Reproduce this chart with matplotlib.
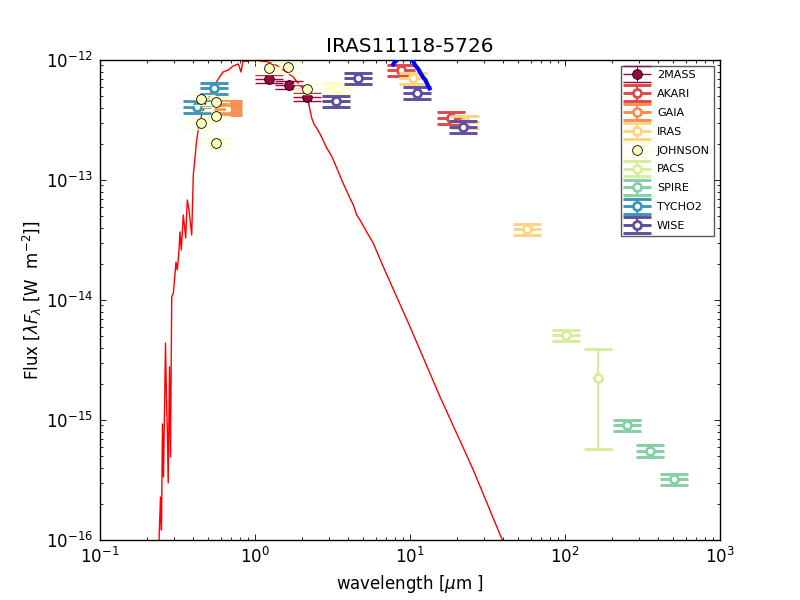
"""SED of IRAS11118-5726: model spectrum plus photometry per system."""

import numpy as np
import matplotlib
matplotlib.use("Agg")
import matplotlib.pyplot as plt
from matplotlib.container import ErrorbarContainer
from matplotlib.legend_handler import HandlerErrorbar, HandlerTuple

# --- model spectrum (wavelength in micron, lambda*F_lambda in W m-2) ---
model_wave = [0.238, 0.2456, 0.2492, 0.2530, 0.2569, 0.2646, 0.2686, 0.2718,
              0.2754, 0.2808, 0.2850, 0.2902, 0.2971, 0.3024, 0.3092, 0.3152,
              0.3218, 0.3281, 0.3345, 0.3447, 0.3572, 0.3658, 0.3752, 0.3905,
              0.3999, 0.4205, 0.4351, 0.4530, 0.4758, 0.5124, 0.5438, 0.5798,
              0.6217, 0.6726, 0.7213, 0.7804, 0.8122, 0.8367, 0.8840, 0.9284,
              0.9707, 1.015, 1.077, 1.160, 1.250, 1.346, 1.450, 1.561, 1.640,
              1.766, 1.866, 2.049, 2.101, 2.208, 2.322, 2.402, 2.501, 2.627,
              2.901, 3.125, 3.366, 3.696, 4.102, 4.308, 4.530, 4.757, 5.256,
              5.797, 6.726, 10.0, 15.62, 25.61, 39.39, 47.57]
model_flux = [6.8e-17, 2.28e-16, 1.21e-16, 9.26e-16, 3.35e-16, 4.38e-15,
              1.47e-15, 8.26e-16, 2.99e-16, 2.77e-15, 4.92e-16, 1.06e-14,
              1.14e-14, 1.47e-14, 2.07e-14, 1.78e-14, 2.37e-14, 3.69e-14,
              2.61e-14, 5.11e-14, 3.29e-14, 6.81e-14, 5.62e-14, 3.48e-14,
              1.10e-13, 2.15e-13, 2.87e-13, 3.48e-13, 4.22e-13, 5.11e-13,
              6.07e-13, 6.95e-13, 7.94e-13, 8.25e-13, 8.91e-13, 9.26e-13,
              7.94e-13, 9.81e-13, 9.72e-13, 9.90e-13, 9.90e-13, 1.0e-12,
              9.81e-13, 9.72e-13, 9.53e-13, 9.17e-13, 8.66e-13, 8.10e-13,
              7.72e-13, 7.22e-13, 6.56e-13, 5.74e-13, 5.31e-13, 4.47e-13,
              3.29e-13, 2.93e-13, 2.70e-13, 2.42e-13, 1.85e-13, 1.58e-13,
              1.26e-13, 9.44e-14, 7.04e-14, 6.19e-14, 5.11e-14, 4.64e-14,
              3.69e-14, 2.97e-14, 1.89e-14, 5.99e-15, 1.56e-15, 3.83e-16,
              1.0e-16, 5.6e-17]

# --- mid-IR spectrum (blue) ---
spec_wave = [7.80, 8.00, 8.41, 9.14, 10.0, 10.46, 10.77, 11.31, 11.78,
             12.18, 12.63, 13.01, 13.36]
spec_flux = [9.21e-13, 9.68e-13, 1.02e-12, 1.06e-12, 1.02e-12, 9.81e-13,
             9.08e-13, 8.41e-13, 7.65e-13, 7.15e-13, 6.74e-13, 6.19e-13,
             5.79e-13]

# --- photometry: wavelength, flux, error, used in fit ---
tmass_wave = [1.235, 1.662, 2.159]
tmass_flux = [6.95e-13, 6.19e-13, 4.95e-13]
tmass_err = [0.56e-13, 0.50e-13, 0.40e-13]
tmass_fit = [True, True, True]

akari_wave = [8.71, 18.3]
akari_flux = [8.25e-13, 3.30e-13]
akari_err = [0.9e-13, 0.36e-13]
akari_fit = [False, False]

gaia_wave = [0.673, 0.673]
gaia_flux = [4.14e-13, 3.91e-13]
gaia_err = [0.45e-13, 0.43e-13]
gaia_fit = [False, False]

iras_wave = [10.5, 22.6, 56.9]
iras_flux = [7.04e-13, 3.06e-13, 3.88e-14]
iras_err = [0.77e-13, 0.34e-13, 0.43e-14]
iras_fit = [False, False, False]

john_wave = [0.449, 0.449, 0.558, 0.558, 0.558, 1.23, 1.64, 2.16, 3.38]
john_flux = [4.70e-13, 2.97e-13, 4.47e-13, 3.41e-13, 2.02e-13, 8.53e-13,
             8.69e-13, 5.74e-13, 5.80e-13]
john_err = [0.45e-13, 0.30e-13, 0.45e-13, 0.34e-13, 0.20e-13, 0.85e-13,
            0.87e-13, 0.57e-13, 0.60e-13]
john_fit = [True, True, True, True, True, True, True, True, False]

pacs_wave = [101.0, 164.0]
pacs_flux = [5.11e-15, 2.23e-15]
pacs_err = [0.56e-15, 1.66e-15]
pacs_fit = [False, False]

spire_wave = [252.0, 353.0, 505.0]
spire_flux = [9.09e-16, 5.55e-16, 3.21e-16]
spire_err = [1.0e-16, 0.61e-16, 0.35e-16]
spire_fit = [False, False, False]

tycho_wave = [0.424, 0.544]
tycho_flux = [4.08e-13, 5.81e-13]
tycho_err = [0.45e-13, 0.64e-13]
tycho_fit = [False, False]

wise_wave = [3.35, 4.60, 11.15, 22.1]
wise_flux = [4.55e-13, 7.04e-13, 5.34e-13, 2.78e-13]
wise_err = [0.50e-13, 0.77e-13, 0.59e-13, 0.31e-13]
wise_fit = [False, False, False, False]

groups = [
    ("2MASS", tmass_wave, tmass_flux, tmass_err, tmass_fit),
    ("AKARI", akari_wave, akari_flux, akari_err, akari_fit),
    ("GAIA", gaia_wave, gaia_flux, gaia_err, gaia_fit),
    ("IRAS", iras_wave, iras_flux, iras_err, iras_fit),
    ("JOHNSON", john_wave, john_flux, john_err, john_fit),
    ("PACS", pacs_wave, pacs_flux, pacs_err, pacs_fit),
    ("SPIRE", spire_wave, spire_flux, spire_err, spire_fit),
    ("TYCHO2", tycho_wave, tycho_flux, tycho_err, tycho_fit),
    ("WISE", wise_wave, wise_flux, wise_err, wise_fit),
]

x_ticks = [0.1, 1, 10, 100, 1000]
y_ticks = [1e-16, 1e-15, 1e-14, 1e-13, 1e-12]

plt.rcParams.update({
    "font.family": "DejaVu Sans",
    "font.size": 12,
    "mathtext.fontset": "dejavusans",
    "axes.linewidth": 1.0,
    "xtick.direction": "in",
    "ytick.direction": "in",
    "xtick.top": True,
    "ytick.right": True,
    "xtick.major.size": 4,
    "ytick.major.size": 4,
    "xtick.minor.size": 2,
    "ytick.minor.size": 2,
    "xtick.major.width": 0.6,
    "ytick.major.width": 0.6,
    "xtick.minor.width": 0.6,
    "ytick.minor.width": 0.6,
})


def plot_group(ax, wave, flux, err, fit, color):
    wave = np.asarray(wave, dtype=float)
    flux = np.asarray(flux, dtype=float)
    err = np.asarray(err, dtype=float)
    fit = np.asarray(fit, dtype=bool)
    handle = None
    for used in (False, True):
        m = fit == used
        if not m.any():
            continue
        if used:
            lw, z = 1.0, 4
            pt_kw = dict(ms=7, mfc=color, mec="k", mew=0.6)
        else:
            lw, z = 2.1, 3
            pt_kw = dict(ms=5.8, mfc="w", mec=color, mew=2.0)
        eb = ax.errorbar(wave[m], flux[m], yerr=err[m], fmt="none",
                         ecolor=color, elinewidth=lw * 0.7, capsize=10,
                         capthick=lw, zorder=z)
        bar = m & (err < 0.5 * flux)
        bl, = ax.plot(wave[bar], flux[bar], ls="none", marker="_", ms=20,
                      mew=lw, color=color, zorder=z)
        pt, = ax.plot(wave[m], flux[m], ls="none", marker="o", zorder=z,
                      **pt_kw)
        # legend shows style of the first point in the group
        if handle is None or used == fit[0]:
            handle = (eb, bl, pt)
    return handle


fig = plt.figure(figsize=(8, 6), dpi=100, facecolor="w")
ax = fig.add_axes([0.125, 0.1, 0.775, 0.8])

ax.plot(model_wave, model_flux, color="r", lw=1.0, zorder=2)

colors = plt.cm.Spectral(np.linspace(0, 1, len(groups)))
handles, labels = [], []
for (name, w, f, e, fit), c in zip(groups, colors):
    handles.append(plot_group(ax, w, f, e, fit, c))
    labels.append(name)

ax.plot(spec_wave, spec_flux, color="b", lw=3.0, zorder=5)

ax.set_xscale("log")
ax.set_yscale("log")
ax.set_xticks(x_ticks)
ax.set_yticks(y_ticks)
ax.set_xlim(0.1, 1000)
ax.set_ylim(1e-16, 1e-12)
ax.tick_params(which="major", pad=5)
ax.set_title("IRAS11118-5726", fontsize=14.4)
ax.set_xlabel(r"wavelength [$\mu$m ]")
ax.set_ylabel(r"Flux [$\lambda F_{\lambda}$ [W  m$^{-2}$]]", labelpad=1)

leg = ax.legend(handles, labels, loc="upper right", fontsize=8, numpoints=1,
                labelspacing=0.8, fancybox=False, framealpha=1,
                edgecolor="0.35",
                handler_map={tuple: HandlerTuple(ndivide=1),
                             ErrorbarContainer: HandlerErrorbar(yerr_size=0.7)})
leg.get_frame().set_linewidth(1.0)

fig.savefig("out.png", dpi=100, facecolor="w")
